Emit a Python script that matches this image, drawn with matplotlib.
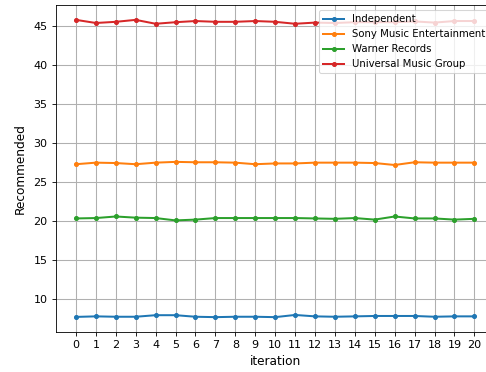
import numpy as np
import matplotlib
matplotlib.use("Agg")
import matplotlib.pyplot as plt

iteration = list(range(21))

independent = [7.73, 7.8, 7.75, 7.75, 7.95, 7.95, 7.75, 7.7, 7.75, 7.75, 7.7,
               7.98, 7.8, 7.75, 7.8, 7.85, 7.85, 7.85, 7.75, 7.8, 7.8]
sony = [27.3, 27.5, 27.45, 27.3, 27.5, 27.6, 27.55, 27.55, 27.5, 27.3, 27.4,
        27.4, 27.5, 27.5, 27.5, 27.45, 27.2, 27.55, 27.5, 27.5, 27.5]
warner = [20.35, 20.4, 20.6, 20.45, 20.4, 20.1, 20.2, 20.4, 20.4, 20.4, 20.4,
          20.4, 20.35, 20.3, 20.4, 20.2, 20.6, 20.35, 20.35, 20.2, 20.3]
universal = [45.8, 45.4, 45.55, 45.8, 45.3, 45.5, 45.65, 45.55, 45.55, 45.65, 45.55,
             45.3, 45.45, 45.4, 45.5, 45.5, 45.5, 45.6, 45.45, 45.65, 45.65]

fig = plt.figure(figsize=(6.4, 4.895), dpi=76)
ax = fig.add_axes([0.1152, 0.1075, 0.901, 0.879])

style = dict(marker='.', linewidth=1.9, markersize=7.5)
ax.plot(iteration, independent, label='Independent', **style)
ax.plot(iteration, sony, label='Sony Music Entertainment', **style)
ax.plot(iteration, warner, label='Warner Records', **style)
ax.plot(iteration, universal, label='Universal Music Group', **style)

ax.set_xticks(iteration)
ax.tick_params(labelsize=10.5, pad=4.5)
ax.set_xlabel('iteration', fontsize=11.5, labelpad=4)
ax.set_ylabel('Recommended', fontsize=11.5, labelpad=6)
ax.grid(True, linewidth=1.0)
ax.legend(loc='upper right', fontsize=9.6)

fig.savefig('out.png', dpi=76)
